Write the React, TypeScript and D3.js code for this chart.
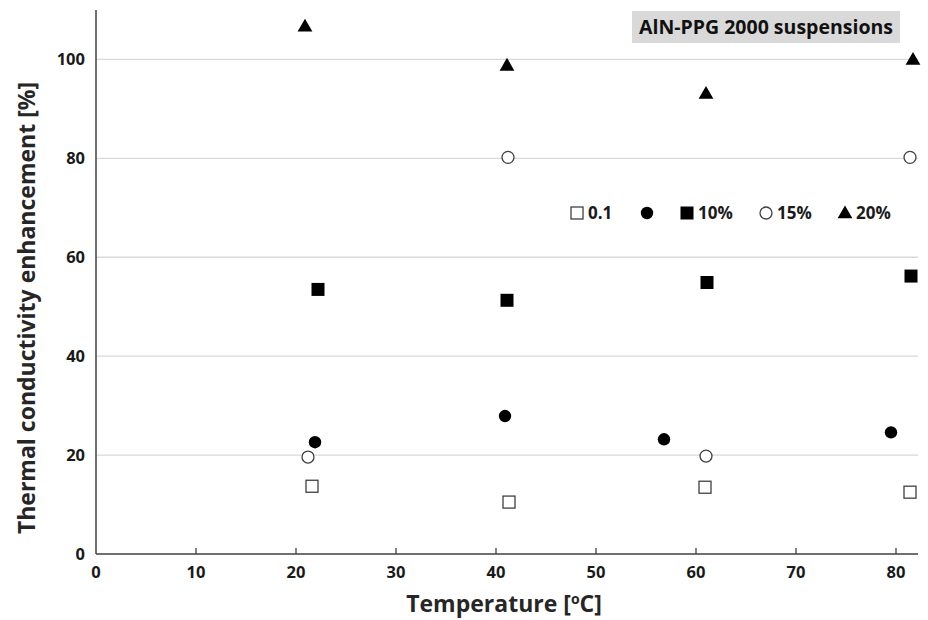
import React from "react";
import * as d3 from "d3";

const xTicks = [0, 10, 20, 30, 40, 50, 60, 70, 80];
const yTicks = [0, 20, 40, 60, 80, 100];

const sq01X = [21.6, 41.3, 60.9, 81.4];
const sq01Y = [13.7, 10.5, 13.5, 12.5];
const dotX = [21.9, 40.9, 56.8, 79.5];
const dotY = [22.6, 27.9, 23.2, 24.6];
const sq10X = [22.2, 41.1, 61.1, 81.5];
const sq10Y = [53.5, 51.3, 54.9, 56.2];
const c15X = [21.2, 41.2, 61.0, 81.4];
const c15Y = [19.6, 80.2, 19.8, 80.2];
const t20X = [20.9, 41.1, 61.0, 81.7];
const t20Y = [106.7, 98.8, 93.1, 100.0];

const legendLabels = ["0.1", "", "10%", "15%", "20%"];

const W = 928, H = 620;
const M = { left: 96, right: 10, top: 10, bottom: 66 };
const FONT = "'Open Sans', 'DejaVu Sans', sans-serif";

type Kind = "osq" | "dot" | "sq" | "ocirc" | "tri";

function Marker({ kind, x, y }: { kind: Kind; x: number; y: number }) {
  if (kind === "osq") return <rect x={x - 6} y={y - 6} width={12} height={12} fill="#fff" stroke="#404040" strokeWidth={1.3} />;
  if (kind === "sq") return <rect x={x - 6.5} y={y - 6.5} width={13} height={13} fill="#000" />;
  if (kind === "dot") return <circle cx={x} cy={y} r={6.2} fill="#000" />;
  if (kind === "ocirc") return <circle cx={x} cy={y} r={6} fill="#fff" stroke="#404040" strokeWidth={1.3} />;
  const tri = d3.symbol(d3.symbolTriangle, 95)();
  return <path d={tri as string} transform={`translate(${x},${y + 1})`} fill="#000" />;
}

export default function App() {
  const x = d3.scaleLinear().domain([0, 82.2]).range([M.left, W - M.right]);
  const y = d3.scaleLinear().domain([0, 110]).range([H - M.bottom, M.top]);

  const series: { kind: Kind; xs: number[]; ys: number[] }[] = [
    { kind: "osq", xs: sq01X, ys: sq01Y },
    { kind: "dot", xs: dotX, ys: dotY },
    { kind: "sq", xs: sq10X, ys: sq10Y },
    { kind: "ocirc", xs: c15X, ys: c15Y },
    { kind: "tri", xs: t20X, ys: t20Y },
  ];

  const legendX = [577, 647, 687, 766, 845];
  const legendY = 213;

  return (
    <svg width={W} height={H} style={{ position: "absolute", left: 0, top: 0, background: "#fff" }} fontFamily={FONT}>
      <rect width={W} height={H} fill="#fff" />
      {yTicks.filter((t) => t > 0).map((t) => (
        <line key={t} x1={x(0)} x2={W - M.right} y1={y(t)} y2={y(t)} stroke="#d9d9d9" strokeWidth={1.3} />
      ))}
      {yTicks.map((t) => (
        <text key={t} x={x(0) - 11} y={y(t)} dy="0.35em" textAnchor="end" fontSize={16.5} fontWeight="bold" fill="#1a1a1a">{t}</text>
      ))}
      {xTicks.map((t) => (
        <g key={t}>
          {t > 0 && <line x1={x(t)} x2={x(t)} y1={y(0)} y2={y(0) - 6} stroke="#404040" strokeWidth={1.3} />}
          <text x={x(t)} y={578} textAnchor="middle" fontSize={16.5} fontWeight="bold" fill="#1a1a1a">{t}</text>
        </g>
      ))}
      <line x1={x(0)} x2={x(0)} y1={M.top} y2={y(0)} stroke="#404040" strokeWidth={1.5} />
      <line x1={x(0)} x2={W - M.right} y1={y(0)} y2={y(0)} stroke="#404040" strokeWidth={1.5} />

      {series.map((s) => s.xs.map((v, i) => <Marker key={s.kind + i} kind={s.kind} x={x(v)} y={y(s.ys[i])} />))}

      {series.map((s, i) => (
        <g key={"lg" + i}>
          <Marker kind={s.kind} x={legendX[i]} y={legendY} />
          {legendLabels[i] && (
            <text x={legendX[i] + 11} y={legendY} dy="0.35em" fontSize={17} fontWeight="bold" fill="#1a1a1a">{legendLabels[i]}</text>
          )}
        </g>
      ))}

      <rect x={632} y={11} width={268} height={32} fill="#d9d9d9" />
      <text x={766} y={27} dy="0.35em" textAnchor="middle" fontSize={19.5} fontWeight="bold" fill="#111">AlN-PPG 2000 suspensions</text>

      <text x={504} y={612} textAnchor="middle" fontSize={23} fontWeight="bold" fill="#262626">
        Temperature [<tspan fontSize={14} dy={-8}>o</tspan><tspan dy={8}>C]</tspan>
      </text>
      <text transform={`translate(27, ${308}) rotate(-90)`} textAnchor="middle" dy="0.35em" fontSize={23} fontWeight="bold" fill="#262626">
        Thermal conductivity enhancement [%]
      </text>
    </svg>
  );
}
